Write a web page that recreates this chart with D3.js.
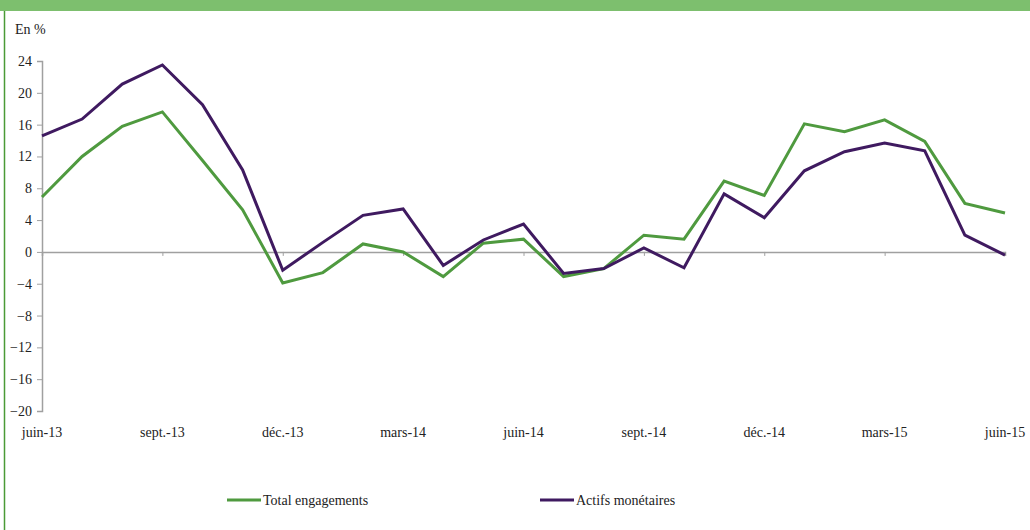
<!DOCTYPE html>
<html>
<head>
<meta charset="utf-8">
<script src="https://cdn.jsdelivr.net/npm/d3@7"></script>
<style>
  body { margin: 0; background: #fff; }
</style>
</head>
<body>
<div id="chart"></div>
<script>
const chartWidth = 1030;
const chartHeight = 530;

const margin = { top: 61, bottom: 119, left: 42, right: 25 };
const serif = "'Liberation Serif', 'DejaVu Serif', 'Times New Roman', serif";

// monthly points, juin-13 .. juin-15
const months = ["juin-13", "juil.-13", "août-13", "sept.-13", "oct.-13", "nov.-13",
  "déc.-13", "janv.-14", "févr.-14", "mars-14", "avr.-14", "mai-14",
  "juin-14", "juil.-14", "août-14", "sept.-14", "oct.-14", "nov.-14",
  "déc.-14", "janv.-15", "févr.-15", "mars-15", "avr.-15", "mai-15", "juin-15"];

const totalEngagements = [6.9, 12.0, 15.8, 17.6, 11.5, 5.3, -3.9, -2.6, 1.0, 0.0, -3.1, 1.1,
  1.6, -3.1, -2.1, 2.1, 1.6, 8.9, 7.1, 16.1, 15.1, 16.6, 13.9, 6.1, 4.9];

const actifsMonetaires = [14.6, 16.7, 21.1, 23.5, 18.5, 10.3, -2.3, 1.2, 4.6, 5.4, -1.7, 1.5,
  3.5, -2.7, -2.1, 0.5, -2.0, 7.3, 4.3, 10.2, 12.6, 13.7, 12.7, 2.1, -0.4];

const xTickLabels = ["juin-13", "sept.-13", "déc.-13", "mars-14", "juin-14",
  "sept.-14", "déc.-14", "mars-15", "juin-15"];

const yTicks = [24, 20, 16, 12, 8, 4, 0, -4, -8, -12, -16, -20];

const series = [
  { name: "Total engagements", values: totalEngagements, color: "#4f9a3f" },
  { name: "Actifs monétaires", values: actifsMonetaires, color: "#3f1a60" }
];

var svg = d3.select("#chart").append("svg")
  .attr("width", chartWidth)
  .attr("height", chartHeight)
  .style("font-family", serif);

// frame decoration
svg.append("rect")
  .attr("x", 0).attr("y", 0)
  .attr("width", chartWidth).attr("height", 11)
  .attr("fill", "#7dbf6e");
svg.append("line")
  .attr("x1", 4.5).attr("x2", 4.5)
  .attr("y1", 11).attr("y2", chartHeight)
  .attr("stroke", "#4a9a36")
  .attr("stroke-width", 1.5);

var xScale = d3.scalePoint()
  .domain(months)
  .range([margin.left, chartWidth - margin.right]);

var yScale = d3.scaleLinear()
  .domain([-20, 24])
  .range([chartHeight - margin.bottom, margin.top]);

// y axis
var yAxis = d3.axisLeft(yScale)
  .tickValues(yTicks)
  .tickSize(5)
  .tickPadding(5);

var gy = svg.append("g")
  .attr("transform", "translate(" + margin.left + ",0)")
  .call(yAxis)
  .attr("font-family", serif);
gy.select(".domain").attr("stroke", "#a0a0a0").attr("stroke-width", 1.5);
gy.selectAll(".tick line").attr("stroke", "#a0a0a0");
gy.selectAll(".tick text")
  .style("font-family", serif)
  .style("font-size", "14px")
  .attr("fill", "#222");

// x axis on the zero line
var xAxis = d3.axisBottom(xScale)
  .tickValues(xTickLabels)
  .tickSize(4)
  .tickFormat("");

var gx = svg.append("g")
  .attr("transform", "translate(0," + yScale(0) + ")")
  .call(xAxis);
gx.select(".domain").attr("stroke", "#a0a0a0").attr("stroke-width", 1.5);
gx.selectAll(".tick line").attr("stroke", "#a0a0a0");

// x labels under the plot
svg.append("g")
  .selectAll("text")
  .data(xTickLabels)
  .enter().append("text")
  .attr("x", d => xScale(d))
  .attr("y", 437)
  .attr("text-anchor", "middle")
  .attr("fill", "#222")
  .style("font-family", serif)
  .style("font-size", "14px")
  .text(d => d);

// unit label
svg.append("text")
  .attr("x", 15)
  .attr("y", 34)
  .attr("fill", "#222")
  .style("font-family", serif)
  .style("font-size", "14px")
  .text("En %");

var line = d3.line()
  .x((d, i) => xScale(months[i]))
  .y(d => yScale(d));

series.forEach(s => {
  svg.append("path")
    .datum(s.values)
    .attr("fill", "none")
    .attr("stroke", s.color)
    .attr("stroke-width", 3)
    .attr("d", line);
});

// legend
var legendX = [227, 540];
var legend = svg.append("g")
  .selectAll("g")
  .data(series)
  .enter().append("g")
  .attr("transform", (d, i) => "translate(" + legendX[i] + ",500)");

legend.append("line")
  .attr("x1", 0).attr("x2", 34)
  .attr("y1", 0).attr("y2", 0)
  .attr("stroke", d => d.color)
  .attr("stroke-width", 3);

legend.append("text")
  .attr("x", 36)
  .attr("y", 5)
  .attr("fill", "#222")
  .style("font-family", serif)
  .style("font-size", "14px")
  .text(d => d.name);
</script>
</body>
</html>
